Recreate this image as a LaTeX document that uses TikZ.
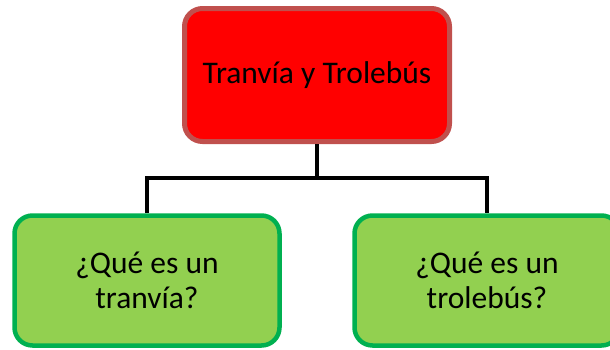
\documentclass[tikz,border=0pt]{standalone}
\usepackage{fontspec}
\setmainfont{Carlito}
\definecolor{topred}{HTML}{FF0000}
\definecolor{topedge}{HTML}{C0504D}
\definecolor{leafgreen}{HTML}{92D050}
\definecolor{leafedge}{HTML}{00B050}
\begin{document}
\begin{tikzpicture}[x=1pt,y=-1pt]
	\useasboundingbox (0,0) rectangle (610,349);
	\tikzstyle{BoxStyle}=[rectangle,rounded corners=18pt,align=center,
		font=\fontsize{31.5}{35}\selectfont,minimum width=265pt]
	\tikzstyle{TopStyle}=[BoxStyle,fill=topred,draw=topedge,line width=5pt,minimum height=133pt]
	\tikzstyle{LeafStyle}=[BoxStyle,fill=leafgreen,draw=leafedge,line width=4.5pt,minimum height=130pt]
	\tikzstyle{EdgeStyle}=[black,line width=4pt]
	\node[TopStyle] (tema) at (317,75) {Tranvía y Trolebús};
	\node[LeafStyle] (tranvia) at (147,280.5) {¿Qué es un\\tranvía?};
	\node[LeafStyle] (trolebus) at (487,280.5) {¿Qué es un\\trolebús?};
	\coordinate (rama) at (317,178);
	\draw[EdgeStyle] (tema) -- (rama);
	\draw[EdgeStyle] (tranvia.north) |- (rama) -| (trolebus.north);
\end{tikzpicture}
\end{document}
